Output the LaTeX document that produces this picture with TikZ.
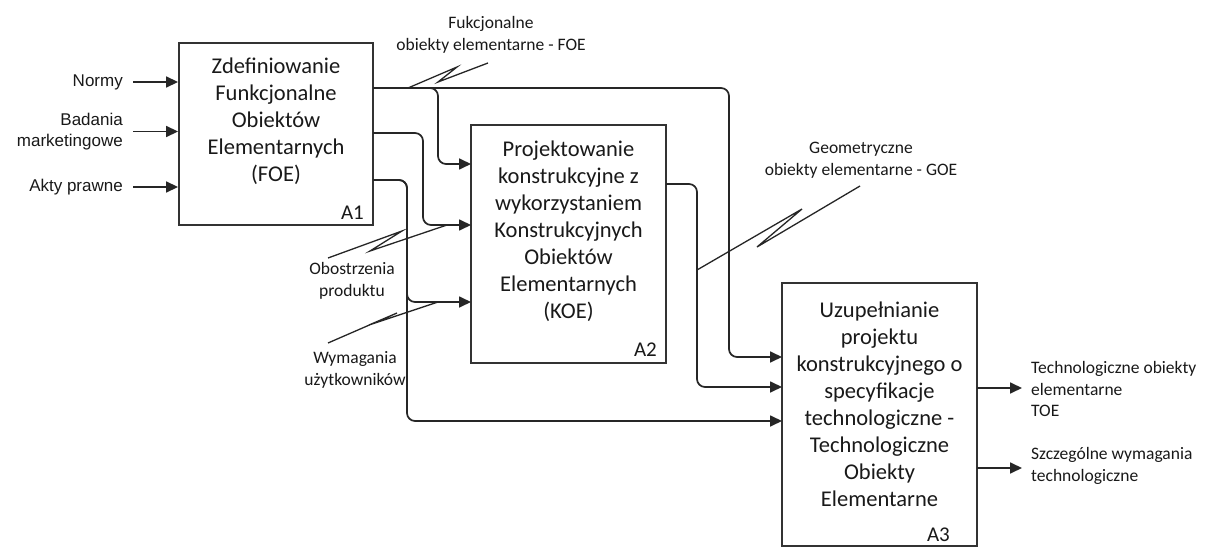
\documentclass[tikz,border=0pt]{standalone}
\usepackage{fontspec}
\setmainfont{Carlito}
\newfontfamily\arialf{Liberation Sans}
\usetikzlibrary{arrows.meta}
\begin{document}
\begin{tikzpicture}[x=1pt,y=-1pt,
  box/.style={draw=black!80,line width=1.9pt,inner sep=0pt},
  conn/.style={draw=black!85,line width=1.7pt,rounded corners=8pt,-{Triangle[length=12pt,width=11pt]}},
  zig/.style={draw=black!85,line width=1.3pt},
  boxtext/.style={align=center,font=\fontsize{22.5}{27}\selectfont,inner sep=0pt,text=black!90},
  boxlbl/.style={anchor=base east,font=\fontsize{21}{24}\selectfont,inner sep=0pt,text=black!90},
  lbl/.style={font=\fontsize{17.5}{21.5}\selectfont,inner sep=0pt,text=black!90},
  inlbl/.style={align=right,anchor=east,font=\arialf\fontsize{17}{21}\selectfont,inner sep=0pt,text=black!90}]
\useasboundingbox (0,0) rectangle (1210,548);
\fill[white] (0,0) rectangle (1210,548);

% boxes
\node[box,minimum width=194pt,minimum height=182pt] (A1) at (276,134) {};
\node[box,minimum width=195pt,minimum height=238pt] (A2) at (568.5,244) {};
\node[box,minimum width=195pt,minimum height=263pt] (A3) at (879.5,414.5) {};

\node[boxtext] (t1) at (276,121) {Zdefiniowanie\\Funkcjonalne\\Obiektów\\Elementarnych\\(FOE)};
\node[boxtext] (t2) at (568.5,231) {Projektowanie\\konstrukcyjne z\\wykorzystaniem\\Konstrukcyjnych\\Obiektów\\Elementarnych\\(KOE)};
\node[boxtext] (t3) at (879.5,404) {Uzupełnianie\\projektu\\konstrukcyjnego o\\specyfikacje\\technologiczne -\\Technologiczne\\Obiekty\\Elementarne};

\node[boxlbl] (l1) at (364,220) {A1};
\node[boxlbl] (l2) at (657,356) {A2};
\node[boxlbl] (l3) at (950,541) {A3};

% input labels
\node[inlbl] (normy) at (123,82) {Normy};
\node[inlbl] (badania) at (123,131.5) {Badania\\marketingowe};
\node[inlbl] (akty) at (123,187) {Akty prawne};

\draw[conn] ([xshift=10pt]normy.east) -- (normy.east -| A1.west);
\draw[conn] ([xshift=10pt]badania.east) -- (badania.east -| A1.west);
\draw[conn] ([xshift=10pt]akty.east) -- (akty.east -| A1.west);

% ports
\coordinate (o11) at (373,88);
\coordinate (o12) at (373,133);
\coordinate (o13) at (373,180);
\coordinate (i21) at (471,164);
\coordinate (i22) at (471,225);
\coordinate (i23) at (471,302);
\coordinate (o21) at (666,184);
\coordinate (i31) at (782,357);
\coordinate (i32) at (782,387);
\coordinate (i33) at (782,421);
\coordinate (o31) at (977,388);
\coordinate (o32) at (977,468);

% connectors
\draw[conn] (o11) -- (729,88) -- (729,357) -- (i31);
\draw[conn] (o11) -- (438,88) -- (438,164) -- (i21);
\draw[conn] (o12) -- (423,133) -- (423,225) -- (i22);
\draw[conn] (o13) -- (407,180) -- (407,421) -- (i33);
\draw[conn] (o13) -- (407,180) -- (407,302) -- (i23);
\draw[conn] (o21) -- (697,184) -- (697,387) -- (i32);

% output labels
\node[lbl,align=left,anchor=west] (toe) at (1031,389) {Technologiczne obiekty\\elementarne\\TOE};
\node[lbl,align=left,anchor=west] (szcz) at (1031,466) {Szczególne wymagania\\technologiczne};
\coordinate (e31) at (1022,388);
\coordinate (e32) at (1022,468);
\draw[conn] (o31) -- (e31);
\draw[conn] (o32) -- (e32);

% tunnel labels
\node[lbl,align=center] (foe) at (491,35) {Fukcjonalne\\obiekty elementarne - FOE};
\node[lbl,align=center] (goe) at (861,160) {Geometryczne\\obiekty elementarne - GOE};
\node[lbl,align=center] (obo) at (352,281) {Obostrzenia\\produktu};
\node[lbl,align=center] (wym) at (355,370) {Wymagania\\użytkowników};

% squiggles
\coordinate (zf1) at (408,88);
\coordinate (zf2) at (488,63);
\draw[zig] (zf1) -- (457,67) -- (438,82) -- (zf2);
\coordinate (zg1) at (697,270);
\coordinate (zg2) at (860,186);
\draw[zig] (zg1) -- (802,209) -- (757,247) -- (zg2);
\coordinate (zo1) at (328,258);
\coordinate (zo2) at (447,225);
\draw[zig] (zo1) -- (402,231) -- (370,251) -- (zo2);
\coordinate (zw1) at (328,343);
\coordinate (zw2) at (438,302);
\draw[zig] (zw1) -- (397,313) -- (369,325) -- (zw2);
\end{tikzpicture}
\end{document}
